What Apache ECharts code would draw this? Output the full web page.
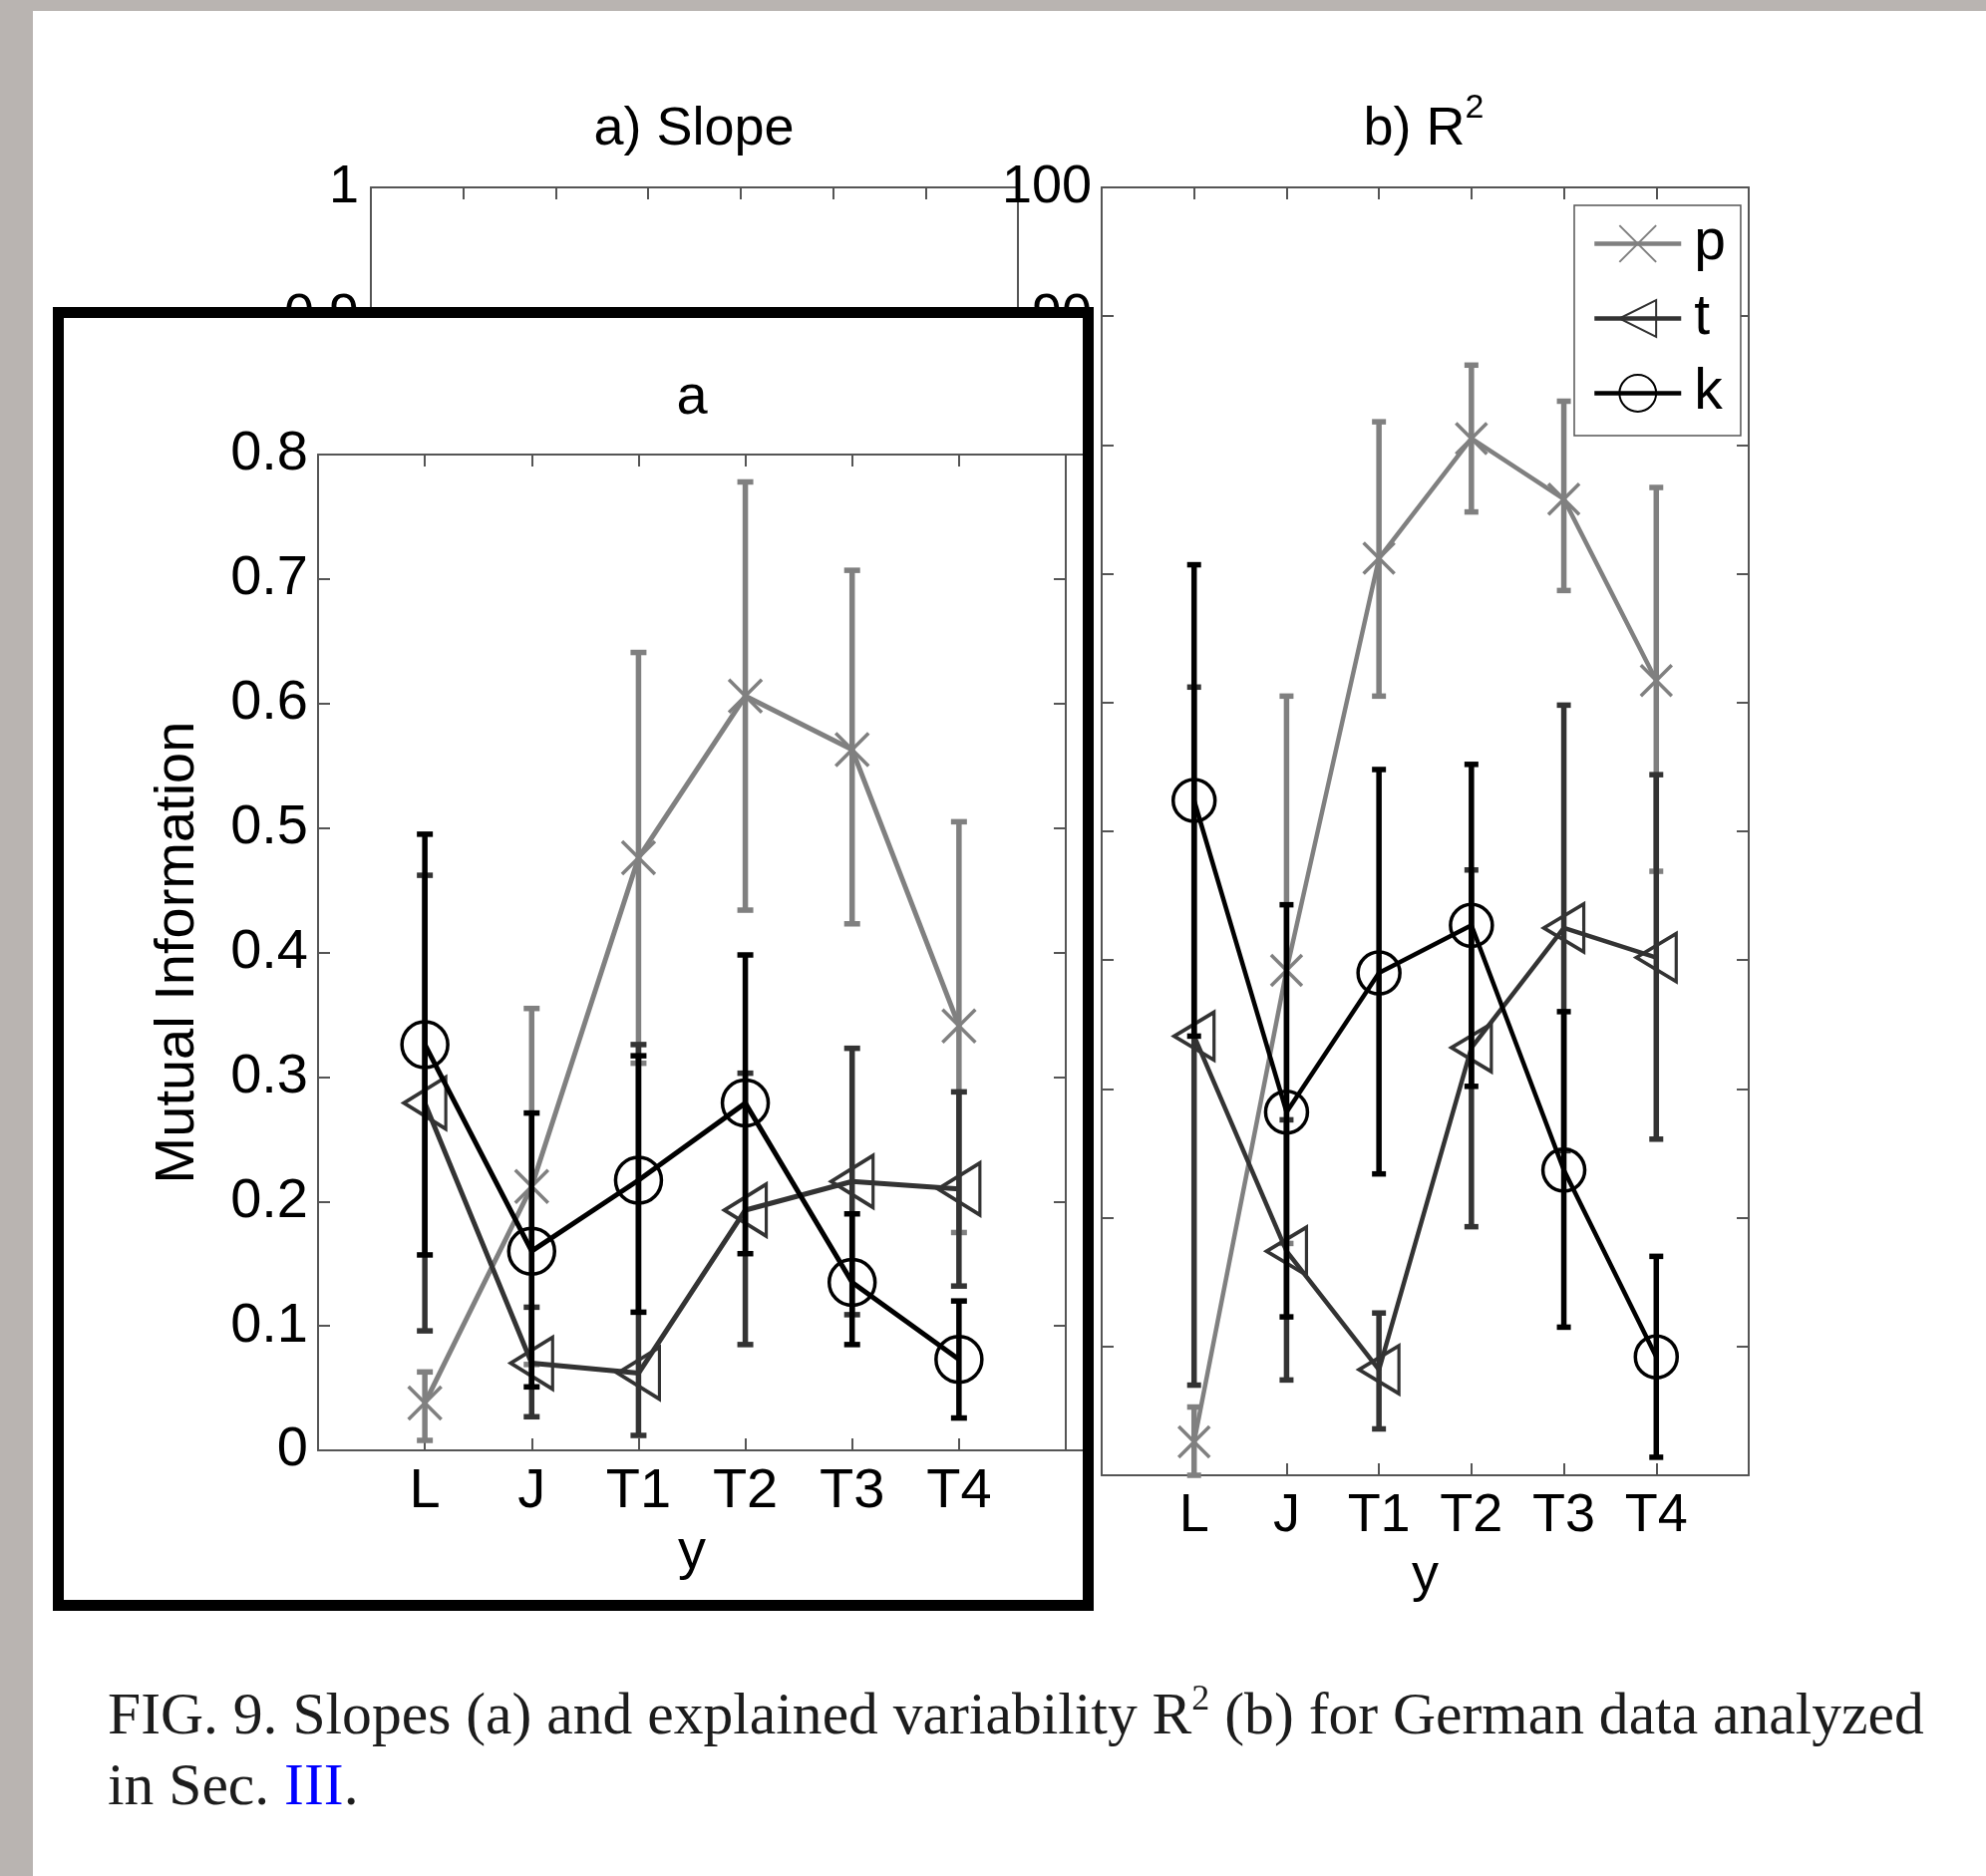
<!DOCTYPE html>
<html>
<head>
<meta charset="utf-8">
<script src="https://cdn.jsdelivr.net/npm/echarts@6/dist/echarts.min.js"></script>
<style>
  html, body { margin: 0; padding: 0; background: #ffffff; }
  #fig { position: absolute; left: 0; top: 0; width: 1992px; height: 1882px; }
  #inset {
    position: absolute; left: 53px; top: 308px; width: 1044px; height: 1308px;
    box-sizing: border-box; border: 11px solid #000; background: #fff;
  }
  #insetChart { width: 1022px; height: 1286px; }
</style>
</head>
<body>
<div id="fig"></div>
<div id="inset"><div id="insetChart"></div></div>
<script>
// ---- data ----
const categories = ['L', 'J', 'T1', 'T2', 'T3', 'T4'];

// b) R^2: explained variability (%) with error-bar limits
const r2P      = [2.6, 39.2, 71.2, 80.5, 75.8, 61.7];
const r2PLow   = [0.0, 18.0, 60.5, 74.8, 68.7, 46.9];
const r2PHigh  = [5.3, 60.5, 81.8, 86.2, 83.4, 76.7];
const r2T      = [34.1, 17.4, 8.2, 33.2, 42.5, 40.2];
const r2TLow   = [7.0, 7.4, 3.6, 19.3, 25.2, 26.1];
const r2THigh  = [61.2, 27.6, 12.6, 47.0, 59.8, 54.4];
const r2K      = [52.4, 28.2, 39.0, 42.7, 23.7, 9.2];
const r2KLow   = [34.1, 12.3, 23.4, 30.2, 11.5, 1.4];
const r2KHigh  = [70.7, 44.3, 54.8, 55.2, 36.0, 17.0];

// a: mutual information with error-bar limits
const miP      = [0.038, 0.212, 0.476, 0.606, 0.563, 0.341];
const miPLow   = [0.008, 0.069, 0.311, 0.434, 0.423, 0.175];
const miPHigh  = [0.063, 0.355, 0.641, 0.778, 0.707, 0.505];
const miT      = [0.279, 0.070, 0.062, 0.193, 0.216, 0.210];
const miTLow   = [0.096, 0.027, 0.012, 0.085, 0.109, 0.132];
const miTHigh  = [0.462, 0.115, 0.326, 0.303, 0.323, 0.288];
const miK      = [0.326, 0.160, 0.217, 0.279, 0.135, 0.073];
const miKLow   = [0.157, 0.051, 0.111, 0.158, 0.085, 0.026];
const miKHigh  = [0.495, 0.271, 0.317, 0.398, 0.190, 0.120];

// axis ranges (min, max, step)
const slopeRange = [0, 1, 0.1];
const r2Range    = [0, 100, 10];
const miRange    = [0, 0.8, 0.1];
const xRange     = [0, 7, 1];

// ---- styling ----
const FONT = "'Liberation Sans', Arial, sans-serif";
const SERIF = "'Liberation Serif', 'Times New Roman', serif";
const AXC = '#555';
const COL_P = '#808080', COL_T = '#333333', COL_K = '#000000';
const SYM_X = 'path://M0,0L10,10M10,0L0,10';
const SYM_TRI = 'path://M0,6L10,0L10,12Z';

const pts = vals => vals.map((v, i) => [i + 1, v]);
const bars = (lo, hi) => lo.map((l, i) => [i + 1, l, hi[i]]);
const fmtNum = v => String(+v.toFixed(2));

function errorBars(color, width, cap) {
  return function (params, api) {
    const x = api.value(0);
    const a = api.coord([x, api.value(1)]);
    const b = api.coord([x, api.value(2)]);
    const st = { stroke: color, lineWidth: width };
    return {
      type: 'group',
      children: [
        { type: 'line', shape: { x1: a[0], y1: a[1], x2: b[0], y2: b[1] }, style: st },
        { type: 'line', shape: { x1: a[0] - cap, y1: a[1], x2: a[0] + cap, y2: a[1] }, style: st },
        { type: 'line', shape: { x1: b[0] - cap, y1: b[1], x2: b[0] + cap, y2: b[1] }, style: st }
      ]
    };
  };
}

function xAxisPair(grid, fs, margin, name, nameGap) {
  const common = {
    type: 'value', gridIndex: grid, min: xRange[0], max: xRange[1], interval: xRange[2],
    axisLine: { show: true, onZero: false, lineStyle: { color: AXC, width: 2 } },
    axisTick: { show: true, inside: true, length: 12, lineStyle: { color: AXC, width: 2 } },
    splitLine: { show: false }
  };
  return [
    Object.assign({}, common, {
      position: 'bottom',
      axisLabel: { margin: margin, fontSize: fs, fontFamily: FONT, color: '#000',
                   formatter: v => categories[v - 1] || '' },
      name: name, nameLocation: 'middle', nameGap: nameGap,
      nameTextStyle: { fontSize: fs, fontFamily: FONT, color: '#000' }
    }),
    Object.assign({}, common, { position: 'top', axisLabel: { show: false } })
  ];
}

function yAxisPair(grid, range, fs, margin, name, nameGap) {
  const common = {
    type: 'value', gridIndex: grid, min: range[0], max: range[1], interval: range[2],
    axisLine: { show: true, onZero: false, lineStyle: { color: AXC, width: 2 } },
    axisTick: { show: true, inside: true, length: 12, lineStyle: { color: AXC, width: 2 } },
    splitLine: { show: false }
  };
  return [
    Object.assign({}, common, {
      position: 'left',
      axisLabel: { margin: margin, fontSize: fs, fontFamily: FONT, color: '#000', formatter: fmtNum },
      name: name || '', nameLocation: 'middle', nameGap: nameGap || 0, nameRotate: 90,
      nameTextStyle: { fontSize: fs, fontFamily: FONT, color: '#000' }
    }),
    Object.assign({}, common, { position: 'right', axisLabel: { show: false } })
  ];
}

function seriesSet(xi, yi, sizes, lw, ew, cap, data) {
  const out = [];
  const defs = [
    { name: 'p', color: COL_P, symbol: SYM_X, size: sizes[0], v: data[0], lo: data[1], hi: data[2], z: 2 },
    { name: 't', color: COL_T, symbol: SYM_TRI, size: sizes[1], v: data[3], lo: data[4], hi: data[5], z: 4 },
    { name: 'k', color: COL_K, symbol: 'circle', size: sizes[2], v: data[6], lo: data[7], hi: data[8], z: 6 }
  ];
  defs.forEach(d => {
    out.push({
      type: 'custom', name: d.name + ' error', xAxisIndex: xi, yAxisIndex: yi, z: d.z,
      silent: true, renderItem: errorBars(d.color, ew, cap),
      encode: { x: 0, y: [1, 2] }, data: bars(d.lo, d.hi)
    });
    out.push({
      type: 'line', name: d.name, xAxisIndex: xi, yAxisIndex: yi, z: d.z + 1,
      silent: true, symbol: d.symbol, symbolSize: d.size, symbolKeepAspect: false,
      lineStyle: { color: d.color, width: lw },
      itemStyle: { color: 'rgba(0,0,0,0)', borderColor: d.color, borderWidth: 3.5 },
      data: pts(d.v)
    });
  });
  return out;
}

// ---- main figure: a) Slope and b) R^2 ----
const fig = echarts.init(document.getElementById('fig'), null, { renderer: 'canvas' });
fig.setOption({
  animation: false,
  backgroundColor: '#ffffff',
  grid: [
    { left: 372, top: 188, width: 649, height: 1292 },
    { left: 1105, top: 188, width: 649, height: 1292 }
  ],
  xAxis: [].concat(xAxisPair(0, 54, 12, '', 0), xAxisPair(1, 54, 14, 'y', 74)),
  yAxis: [].concat(yAxisPair(0, slopeRange, 54, 12), yAxisPair(1, r2Range, 54, 10)),
  legend: {
    data: ['p', 't', 'k'], orient: 'vertical', left: 1579, top: 206,
    padding: [10, 15, 14, 18], itemGap: 18, itemWidth: 87, itemHeight: 46,
    borderColor: '#555', borderWidth: 1.5, backgroundColor: '#fff', selectedMode: false,
    lineStyle: { width: 4.5 },
    textStyle: { fontSize: 57, fontFamily: FONT, color: '#000', lineHeight: 54, padding: [0, 0, 0, 8] }
  },
  graphic: [
    { type: 'rect', shape: { x: 0, y: 0, width: 33, height: 1882 }, style: { fill: '#b9b4b1' } },
    { type: 'rect', shape: { x: 0, y: 0, width: 1992, height: 11 }, style: { fill: '#b9b4b1' } },
    { type: 'text', x: 696, y: 130,
      style: { text: 'a) Slope', fontSize: 54, fontFamily: FONT, fill: '#000', align: 'center', verticalAlign: 'middle' } },
    { type: 'text', x: 1428, y: 130,
      style: { text: 'b) R{sup|2}', fontSize: 54, fontFamily: FONT, fill: '#000', align: 'center', verticalAlign: 'middle',
               lineHeight: 76,
               rich: { sup: { fontSize: 34, fontFamily: FONT, fill: '#000', verticalAlign: 'top', lineHeight: 34 } } } },
    { type: 'text', x: 108, y: 1688,
      style: {
        text: 'FIG. 9. Slopes (a) and explained variability R{sup|2} (b) for German data analyzed\nin Sec. {link|III}.',
        fontSize: 59.6, fontFamily: SERIF, fill: '#1c1c1c', lineHeight: 71, align: 'left', verticalAlign: 'top',
        rich: {
          sup: { fontSize: 36, fontFamily: SERIF, fill: '#1c1c1c', verticalAlign: 'top', lineHeight: 34 },
          link: { fontSize: 59.6, fontFamily: SERIF, fill: '#0000ff', lineHeight: 71 }
        }
      } }
  ],
  series: [
    { type: 'line', name: 'slope', xAxisIndex: 0, yAxisIndex: 0, data: [], silent: true }
  ].concat(seriesSet(2, 2, [31, [40, 48], 42], 4.5, 5.5, 7,
    [r2P, r2PLow, r2PHigh, r2T, r2TLow, r2THigh, r2K, r2KLow, r2KHigh]))
});

// ---- panel "a": mutual information ----
const inset = echarts.init(document.getElementById('insetChart'), null, { renderer: 'canvas' });
inset.setOption({
  animation: false,
  grid: { left: 255, top: 137, width: 750, height: 999 },
  xAxis: xAxisPair(0, 56, 14, 'y', 72),
  yAxis: yAxisPair(0, miRange, 56, 10, 'Mutual Information', 112),
  graphic: [
    { type: 'text', x: 630, y: 81,
      style: { text: 'a', fontSize: 56, fontFamily: FONT, fill: '#000', align: 'center', verticalAlign: 'middle' } },
    { type: 'line', shape: { x1: 1005, y1: 137, x2: 1022, y2: 137 }, style: { stroke: AXC, lineWidth: 2 } },
    { type: 'line', shape: { x1: 1005, y1: 1136, x2: 1022, y2: 1136 }, style: { stroke: AXC, lineWidth: 2 } }
  ],
  series: seriesSet(0, 0, [33, [42, 52], 46], 5, 5.5, 8,
    [miP, miPLow, miPHigh, miT, miTLow, miTHigh, miK, miKLow, miKHigh])
});
</script>
</body>
</html>
